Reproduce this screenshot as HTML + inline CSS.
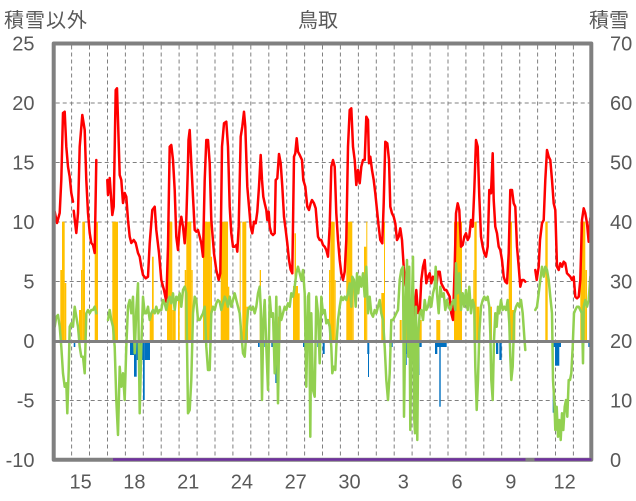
<!DOCTYPE html>
<html><head><meta charset="utf-8"><style>
html,body{margin:0;padding:0;background:#fff;}
svg{display:block;}
text{font-family:"Liberation Sans","Noto Sans CJK JP",sans-serif;fill:#595959;}
</style></head><body>
<svg width="636" height="501" viewBox="0 0 636 501" xmlns="http://www.w3.org/2000/svg">
<rect width="636" height="501" fill="#fff"/>
<text x="4" y="27" font-size="20" letter-spacing="1">積雪以外</text>
<text x="318" y="27" font-size="20" text-anchor="middle">鳥取</text>
<text x="589" y="27" font-size="20">積雪</text>
<g font-size="20" text-anchor="end">
<text x="34.5" y="50.7">25</text>
<text x="34.5" y="110.2">20</text>
<text x="34.5" y="169.7">15</text>
<text x="34.5" y="229.2">10</text>
<text x="34.5" y="288.7">5</text>
<text x="34.5" y="348.2">0</text>
<text x="34.5" y="407.7">-5</text>
<text x="34.5" y="467.2">-10</text>
</g>
<g font-size="20">
<text x="610" y="50.7">70</text>
<text x="610" y="110.2">60</text>
<text x="610" y="169.7">50</text>
<text x="610" y="229.2">40</text>
<text x="610" y="288.7">30</text>
<text x="610" y="348.2">20</text>
<text x="610" y="407.7">10</text>
<text x="610" y="467.2">0</text>
</g>
<g font-size="20" text-anchor="middle">
<text x="80.6" y="488.5">15</text>
<text x="134.4" y="488.5">18</text>
<text x="188.2" y="488.5">21</text>
<text x="241.9" y="488.5">24</text>
<text x="295.7" y="488.5">27</text>
<text x="349.5" y="488.5">30</text>
<text x="403.3" y="488.5">3</text>
<text x="457" y="488.5">6</text>
<text x="510.8" y="488.5">9</text>
<text x="564.6" y="488.5">12</text>
</g>
<g stroke="#808080" stroke-width="1" stroke-dasharray="4 3" fill="none">
<path d="M55.7 103H589.3M55.7 162.5H589.3M55.7 222H589.3M55.7 281.5H589.3M55.7 400.5H589.3"/>
<path d="M71.6 45.5V458M89.5 45.5V458M107.5 45.5V458M125.4 45.5V458M143.3 45.5V458M161.2 45.5V458M179.1 45.5V458M197.1 45.5V458M215 45.5V458M232.9 45.5V458M250.8 45.5V458M268.8 45.5V458M286.7 45.5V458M304.6 45.5V458M322.5 45.5V458M340.4 45.5V458M358.4 45.5V458M376.3 45.5V458M394.2 45.5V458M412.1 45.5V458M430.1 45.5V458M448 45.5V458M465.9 45.5V458M483.8 45.5V458M501.7 45.5V458M519.7 45.5V458M537.6 45.5V458M555.5 45.5V458M573.4 45.5V458"/>
</g>
<g fill="#FFC000">
<rect x="60.3" y="270" width="1.7" height="71"/>
<rect x="62" y="221.7" width="2.7" height="119.3"/>
<rect x="64.7" y="283" width="1.6" height="58"/>
<rect x="79" y="310" width="2" height="31"/>
<rect x="81" y="270" width="1.3" height="71"/>
<rect x="82.3" y="221.7" width="2.7" height="119.3"/>
<rect x="94.7" y="221.7" width="3.3" height="119.3"/>
<rect x="112.3" y="221.7" width="5.7" height="119.3"/>
<rect x="149.7" y="313" width="2.3" height="28"/>
<rect x="152" y="256.7" width="1.7" height="84.3"/>
<rect x="167" y="221.7" width="5.3" height="119.3"/>
<rect x="172.3" y="310" width="3.4" height="31"/>
<rect x="178" y="296.7" width="1.7" height="44.3"/>
<rect x="184.7" y="270" width="1.6" height="71"/>
<rect x="186.3" y="221.7" width="5" height="119.3"/>
<rect x="191.3" y="270" width="1.4" height="71"/>
<rect x="203" y="221.7" width="7.7" height="119.3"/>
<rect x="210.7" y="256.7" width="1.3" height="84.3"/>
<rect x="220.7" y="221.7" width="7.3" height="119.3"/>
<rect x="228" y="286.7" width="1.3" height="54.3"/>
<rect x="239.7" y="221.7" width="1" height="119.3"/>
<rect x="242.3" y="221.7" width="4" height="119.3"/>
<rect x="246.3" y="306.7" width="1.7" height="34.3"/>
<rect x="259.7" y="270" width="1.3" height="71"/>
<rect x="278" y="316.7" width="2.7" height="24.3"/>
<rect x="293" y="286" width="5" height="55"/>
<rect x="294.5" y="233.3" width="1.5" height="107.7"/>
<rect x="298" y="293.3" width="1.7" height="47.7"/>
<rect x="329" y="270" width="1.3" height="71"/>
<rect x="330.3" y="221.7" width="4.4" height="119.3"/>
<rect x="334.7" y="280" width="1" height="61"/>
<rect x="346.3" y="221.7" width="6" height="119.3"/>
<rect x="352.3" y="280" width="1.4" height="61"/>
<rect x="364" y="246.7" width="2.3" height="94.3"/>
<rect x="366.3" y="221.7" width="1" height="119.3"/>
<rect x="381.3" y="293" width="2.7" height="48"/>
<rect x="384" y="221.7" width="1" height="119.3"/>
<rect x="399.7" y="320" width="2" height="21"/>
<rect x="405.7" y="320" width="1.3" height="21"/>
<rect x="419" y="320" width="2.7" height="21"/>
<rect x="436.3" y="320" width="4" height="21"/>
<rect x="454" y="221.7" width="8" height="119.3"/>
<rect x="473.3" y="270" width="1" height="71"/>
<rect x="474.3" y="221.7" width="2.4" height="119.3"/>
<rect x="476.7" y="306.7" width="2.6" height="34.3"/>
<rect x="490.3" y="306.7" width="1.7" height="34.3"/>
<rect x="508.7" y="221.7" width="3.3" height="119.3"/>
<rect x="512" y="310" width="3.3" height="31"/>
<rect x="545.3" y="221.7" width="2.4" height="119.3"/>
<rect x="580.3" y="221.7" width="5" height="119.3"/>
<rect x="585.3" y="270" width="1.7" height="71"/>
</g>
<g fill="#0070C0">
<rect x="73.7" y="341" width="1.6" height="6"/>
<rect x="130" y="341" width="4" height="14"/>
<rect x="134" y="341" width="2.7" height="35.7"/>
<rect x="136.7" y="341" width="3.3" height="19"/>
<rect x="140" y="341" width="1.5" height="29"/>
<rect x="141.5" y="341" width="1.5" height="19"/>
<rect x="143" y="341" width="1.7" height="59"/>
<rect x="144.7" y="341" width="5.3" height="19"/>
<rect x="258" y="341" width="1.7" height="6"/>
<rect x="263" y="341" width="1.7" height="6"/>
<rect x="271.3" y="341" width="3.4" height="6"/>
<rect x="275.3" y="341" width="1.4" height="42"/>
<rect x="303" y="341" width="1.7" height="6"/>
<rect x="317.3" y="341" width="1.4" height="6"/>
<rect x="322.7" y="341" width="2" height="13"/>
<rect x="367.3" y="341" width="2" height="13"/>
<rect x="368" y="341" width="1" height="36"/>
<rect x="389.3" y="341" width="3.4" height="6"/>
<rect x="404" y="341" width="2.7" height="24"/>
<rect x="406.7" y="341" width="3.3" height="13"/>
<rect x="412" y="341" width="2" height="6"/>
<rect x="416" y="341" width="5.7" height="6"/>
<rect x="418" y="341" width="1.5" height="34"/>
<rect x="435" y="341" width="11.7" height="6"/>
<rect x="435" y="341" width="2.3" height="13"/>
<rect x="439.3" y="341" width="1.4" height="65.7"/>
<rect x="496" y="341" width="2.3" height="13"/>
<rect x="499.3" y="341" width="2.4" height="19"/>
<rect x="552.7" y="341" width="8.3" height="6"/>
<rect x="555" y="341" width="4.3" height="24.7"/>
<rect x="552.7" y="341" width="1" height="71.7"/>
<rect x="588.3" y="341" width="1.7" height="6"/>
</g>
<g fill="none" stroke="#FF0000" stroke-width="2.5" stroke-linejoin="round" stroke-linecap="round">
<polyline points="54.7,211.7 57,223 59.7,213 61.3,180 63,113 64.7,111.7 66.3,146.7 68,166.7 69.7,176.7 71.3,193 73,201.7"/>
<polyline points="73.7,210.7 76.3,233 78,213 79.7,146.7 82.3,115 84.7,130 86.3,180 88,213 89.7,233 91.3,243 93,245 94.7,253 96.3,160"/>
<polyline points="107.3,180 108,195 109.7,178 112.3,215 113.7,206.7 115.7,90 117,88.3 119.7,175 121.3,180 123,203 124.7,193 126.3,196.7 128,220 129.7,236.7 131.3,243 133.7,240 135.7,243 138,253 139.7,256.7 141.3,266.7 143,275 145.7,278.3 148,276.7 149.7,243.3 152.3,210 154.7,206.7 156.3,230 159,253 161.3,280 164,290 166.3,301.7 168,246.7 169.7,146.7 171.3,145 173,160 174.7,190 176.3,236.7 178,250 179.7,226.7 181.3,216.7 183,226.7 184.7,243.3 186.3,220 188,163 188.5,140 189.7,130 191.3,163.3 193,196.7 194.7,230 196.3,231.7 198,230 199.7,236.7 201.3,243.3 203,256.7 204.7,180 206.3,140 208,140 209.7,163.3 211.3,220 214,253.3 216.3,270 218.7,280 220.3,273.3 222,146.7 224,123.3 226.3,121.7 228,146.7 229.7,206.7 231.3,233.3 233,246.7 234.7,246.7 236.3,245 237.3,251.7 238.7,226.7 240.7,136.7 242.3,126.7 244,111.7 245.3,126.7 247.3,186.7 249,206.7 250.7,226.7 252.3,233.3 254,221.7 255.7,223.3 257.3,211.7 259,186.7 260.7,155 262,180 263.3,196.7 264.7,203.3 266.3,210 267.3,220 268.7,211.7 269.7,226.7 271.3,233.3 273,235 274.7,233.3 275.7,180 277.3,178.3 279,154 280.7,163.3 282.3,186.7 284,216.7 285.7,230 287.3,243.3 289,260 290.7,270 292.3,273.3 294,156.7 295.3,153.3 296.7,138.3 298,151.7 299.7,155 302,160 303.3,180 305.3,186.7 307.3,206.7 309,210 310.7,203.3 312,200 314,203.3 315.7,208.3 318,236.7 319.7,240 321.3,240 323,245 324.7,246.7 326.3,250 328,256.7 329.7,226.7 331.3,166.7 333,160 334.7,166.7 336.3,213.3 338,240 339.7,260 341.3,273.3 343,280 344.7,271.7 346.3,240 348,146.7 349.7,110 351.3,108.3 353,146.7 354.7,160 356.3,185 358,170 359.7,183.3 361.3,166.7 363,160 364.7,160 366.3,116.7 368,120 369,163.3 370.3,156.7 372,170 373.7,180 375.3,193.3 377,210 378.7,226.7 380.3,240 382.3,243.3 383.7,203.3 385.3,141.7 387.3,143.3 389,160 390.3,206.7 392,213.3 393.7,216.7 395.3,223.3 397,240 398.7,236.7 400.3,228.3 402,240 403.7,266.7 405.3,283.3 407,290 408.7,310 410.3,320 411.3,310 413,320 414.7,310 416.3,290 418,313 419.7,313 421.3,280 423,266.7 424.7,260 426.3,283.3 428,276.7 429.7,273.3 431.3,283.3 433,276.7 434.7,280 436.3,286.7 438,271.7 439.7,271.7 441.3,283.3 443,286.7 444.7,290 446.3,290 448,293.3 449.7,296.7 451.3,313.3 453,320 454.7,266.7 456,213.3 457.7,203.3 459.3,210 461,246.7 462.7,245 464.3,236.7 466,233.3 467.7,240 469.3,236.7 471,220 472.7,226.7 474.3,190 476,140 477.7,146.7 479.3,196.7 481,236.7 482.7,246.7 484.3,253.3 486,256.7 487.7,246.7 489.3,190 491,193.3 492.7,153.3 493.7,200 495.3,226.7 497,233.3 498.7,246.7 500.3,250 502,260 503.7,276.7 505.3,281.7 507,283.3 508.7,253.3 510.3,190 512,190 513.7,203.3 515.3,206.7 517,246.7 518.7,266.7 520.3,286.7 522,280 523.7,280 525.3,281.7"/>
<polyline points="535.3,270 536.7,280 538.7,266.7 540,240 542,223.3 543.7,220 545.3,180 547,150 548.7,156.7 550.3,160 552,180 553.7,203.3 555.3,210 557,266.7 558.7,270 560.3,263.3 562,266.7 563.7,261.7 565.3,263.3 567,273.3 568.7,275 570.3,276.7 572,280 573.7,276.7 575.3,296.7 577,298.3 578.7,296.7 580.3,280 582,220 583.7,208.3 585.3,213.3 587,223.3 588.7,241.7 590.3,218.3"/>
</g>
<g fill="none" stroke="#92D050" stroke-width="2.5" stroke-linejoin="round" stroke-linecap="round">
<polyline points="54.7,326.7 56.3,316.7 58,315 59.7,326.7 61.3,346.7 63,373.3 64.7,386.7 66.3,383.3 67.3,413.3 68.7,370 69.7,326.7 71.3,323.3 73,326.7 74.7,306.7 76.3,316.7 78,326.7 79.7,346.7 81.3,356.7 83,356.7 84.7,373.3 86.3,313.3 88,310 89.7,313.3 91.3,310 93,310 94.7,306.7 96.3,313.3"/>
<polyline points="108,320 109.7,310 111.3,320 113,326.7 114.7,346.7 116.3,400 118,435 119.7,366.7 121.3,386.7 123,373.3 124.7,400 126.3,346.7 128,306.7 129.7,300 131.3,313.3 133,296.7 134.7,353.3 136.3,310 138,283.3 139.7,413.3 141.3,346.7 143,296.7 144.7,313.3 146.3,313.3 148,306.7 149.7,320 151.3,313.3 153,310 154.7,313.3 156.3,306.7 158,313.3 159.7,310 161.3,310 163,300 164.7,303.3 166.3,310 168,300 169.7,296.7 171.3,303.3 173,293.3 174.7,310 176.3,296.7 178,300 179.7,293.3 181.3,306.7 183,290 184.7,286.7 186.3,293.3 188,413.3 189.7,410 191.3,380 193,313.3 194.7,296.7 196.3,300 198,320 199.7,320 201.3,316.7 203,313.3 204.7,306.7 206.3,346.7 208,370 209.7,370 211.3,313.3 213,306.7 214.7,310 216.3,303.3 218,300 219.7,301.7 221.3,310 223,303.3 224.7,296.7 226.3,300 228,306.7 229.7,296.7 231.3,306.7 233,300 234.7,293.3 236.3,300 238,306.7 239.7,313.3 241.3,333.3 243,353.3 244.7,356.7 246.3,333.3 248,310 249.7,306.7 251.3,310 253,306.7 254.7,313.3 256.3,306.7 258,293.3 259.7,286.7 260.7,306.7 262,400 263.3,320 264.7,300 266.3,346.7 268,390 269.7,296.7 271.3,316.7 273,313.3 274.7,373.3 276.3,296.7 278,403.3 279.7,306.7 281.3,320 283,313.3 284.7,306.7 286.3,310 288,303.3 289.7,306.7 291.3,293.3 293,296.7 294.7,286.7 296.3,273.3 298,266.7 299.7,273.3 301.3,280 303,270 304.7,293.3 306.3,386.7 308,296.7 309,293.3 310.3,436.7 311.3,313.3 313,390 314.7,396.7 316.3,296.7 318,313.3 319.7,363.3 321.3,296.7 323,313.3 324.7,310 326.3,323.3 328,320 329.7,326.7 331.3,346.7 332.3,373.3 333.7,366.7 335.3,370 336.3,346.7 338,320 339.7,306.7 341.3,296.7 343,300 344.7,296.7 346.3,300 348,293.3 349.7,283.3 351.3,306.7 352.3,276.7 354,280 355.7,306.7 357,273.3 358.3,293.3 359.7,276.7 361.3,286.7 363,273.3 364.7,296.7 366.3,266.7 368,313.3 369.7,296.7 371.3,313.3 373,316.7 374.7,310 376.3,313.3 378,306.7 379.7,300 381.3,313.3 383,320 384.7,346.7 386.3,380 388,400 389.7,373.3 391.3,320 393,320 394.7,316.7 396.3,313.3 398,310 399.7,280 401.3,270 403,266.7 404,416.7 405.7,296.7 407,260 408.3,356.7 409.3,266.7 410.3,430 411.7,313.3 413,256.7 414,413.3 415,433.3 416,306.7 417.3,440 418.3,333.3 419.7,313.3 421.3,310 423,320 424.7,300 426.3,310 428,306.7 429.7,296.7 431.3,306.7 433,293.3 434.7,286.7 435.7,266.7 437,293.3 438.7,313.3 440.3,286.7 442,296.7 443.7,293.3 445.3,310 447,300 448.7,306.7 450.3,310 452,303.3 453.7,300 455.3,310 456,263.3 457.7,293.3 459.3,273.3 461,310 462.7,293.3 464.3,306.7 466,290 467.7,310 469.3,286.7 471,313.3 472.7,300 474.3,306.7 475.3,366.7 476.7,410 478,380 479.3,333.3 481,306.7 482.7,300 484.3,296.7 486,300 487.7,296.7 489.3,306.7 490.3,333.3 491.3,380 492.7,400 494,340 495.3,313.3 496.7,326.7 498,306.7 499.3,313.3 501,300 502.7,310 504.3,306.7 506,310 507.7,300 509.3,323.3 510.3,356.7 511.3,380 512.7,366.7 514.3,313.3 516,306.7 517.7,303.3 519.3,306.7 521,300 522.7,313.3 524.3,336.7 525.3,350"/>
<polyline points="535.3,310 537,306.7 538.7,293.3 540.3,280 542,266.7 543.7,276.7 545.3,266.7 547,270 548.7,280 550.3,296.7 552,313.3 553,380 554.3,400 555.3,430 556.7,406.7 558,436.7 559.3,420 560.7,440 562,413.3 563.3,430 564.7,406.7 566,400 567.3,416.7 568.7,380 570,380 571.3,373.3 572.7,346.7 574,313.3 575.3,310 577,306.7 578.7,306.7 580.3,310 582,313.3 583,363.3 583.7,306.7 585.3,300 587,306.7 588.7,300 590.3,276.7"/>
</g>
<line x1="53.7" y1="341.5" x2="591.3" y2="341.5" stroke="#808080" stroke-width="3"/>
<rect x="53.7" y="43.5" width="537.6" height="416.3" fill="none" stroke="#808080" stroke-width="4" stroke-linejoin="round"/>
<g stroke="#7030A0" stroke-width="2.5" fill="none">
<line x1="113" y1="459.5" x2="525.5" y2="459.5"/>
<line x1="534.5" y1="459.5" x2="591.5" y2="459.5"/>
</g>
</svg>
</body></html>
